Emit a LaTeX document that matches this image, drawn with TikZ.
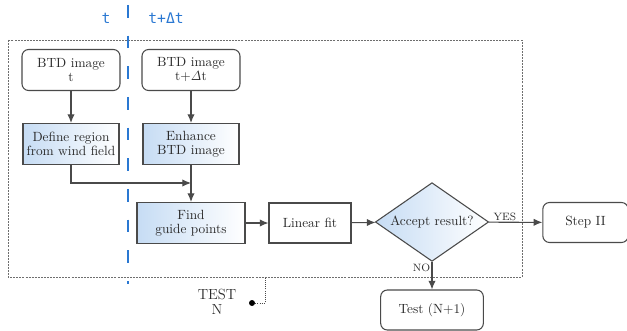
\documentclass[tikz,border=0pt]{standalone}
\usepackage[no-math]{fontspec}
\newfontfamily\monof{DejaVu Sans Mono}
\usetikzlibrary{shapes.geometric,arrows.meta}
\definecolor{linec}{HTML}{4A4A4A}
\definecolor{textc}{HTML}{2A2A2A}
\definecolor{bluef}{HTML}{C6DCF4}
\definecolor{tblue}{HTML}{2A78D2}
\tikzset{
  box/.style={draw=linec, line width=0.8pt, text=textc, align=center,
    font=\fontsize{10}{10.5}\selectfont, inner sep=1pt},
  rbox/.style={box, rounded corners=5pt},
  sbox/.style={box, left color=bluef, right color=white},
  pbox/.style={box, fill=white},
  dbox/.style={box, diamond, left color=bluef, right color=white, shape aspect=1.43, inner sep=0pt},
  arr/.style={draw=linec, line width=0.8pt, -{Latex[length=6.5pt,width=5.5pt]}},
  lab/.style={text=textc, font=\fontsize{8}{9}\selectfont, inner sep=1pt},
  tlab/.style={text=tblue, font=\monof\fontsize{11}{12}\selectfont, inner sep=0pt},
}
\begin{document}
\begin{tikzpicture}[x=0.75pt,y=-0.75pt]
\useasboundingbox (0,0) rectangle (627,331);
% outer dashed frame
\draw[linec!80, line width=0.5pt, dash pattern=on 1.5pt off 0.8pt] (8,40) rectangle (522,277);
% time divider
\draw[tblue, line width=2.2pt, dash pattern=on 9.5pt off 13.5pt] (128,5) -- (128,284);
\node[tlab] (lt) at (106,18) {t};
\node[tlab] (ltd) at (166,18) {t+Δt};
% nodes
\node[rbox, minimum width=73.5pt, minimum height=30.75pt] (btd1) at (71,70) {BTD image\\t};
\node[rbox, minimum width=73.5pt, minimum height=30.75pt] (btd2) at (191,70) {BTD image\\t+$\mathit{\Delta}$t};
\node[sbox, minimum width=72pt, minimum height=30.75pt] (def) at (71,144) {Define region\\from wind field};
\node[sbox, minimum width=72pt, minimum height=30.75pt] (enh) at (191,144) {Enhance\\BTD image};
\node[sbox, minimum width=81pt, minimum height=30.75pt] (find) at (191,223) {Find\\guide points};
\node[pbox, minimum width=61.5pt, minimum height=30pt] (lin) at (310,223) {Linear fit};
\node[dbox, minimum width=85pt, minimum height=59pt] (acc) at (432,222) {Accept result?};
\node[rbox, minimum width=64pt, minimum height=30pt] (step) at (585.5,222.5) {Step II};
\node[rbox, minimum width=77pt, minimum height=30pt] (test) at (432,310) {Test (N+1)};
\node[box, draw=none, font=\fontsize{11}{11.5}\selectfont] (tn) at (217,302) {TEST\\N};
\node[circle, fill=black, inner sep=0pt, minimum size=4.5pt] (dot) at (252,303) {};
\coordinate (j) at (191,183);
\coordinate (fr) at (265,277);
% connectors
\draw[arr] (btd1) -- (def);
\draw[arr] (btd2) -- (enh);
\draw[arr] (def.south) |- (j);
\draw[arr] (enh) -- (find);
\draw[arr] (find) -- (lin);
\draw[arr] (lin) -- (acc);
\draw[arr] (acc) -- node[lab, pos=0.3, above] (yes) {YES} (step);
\draw[arr] (acc) -- node[lab, pos=0.2, left] (no) {NO} (test);
\draw[linec, line width=0.6pt, densely dotted] (dot) -| (fr);
\end{tikzpicture}
\end{document}
